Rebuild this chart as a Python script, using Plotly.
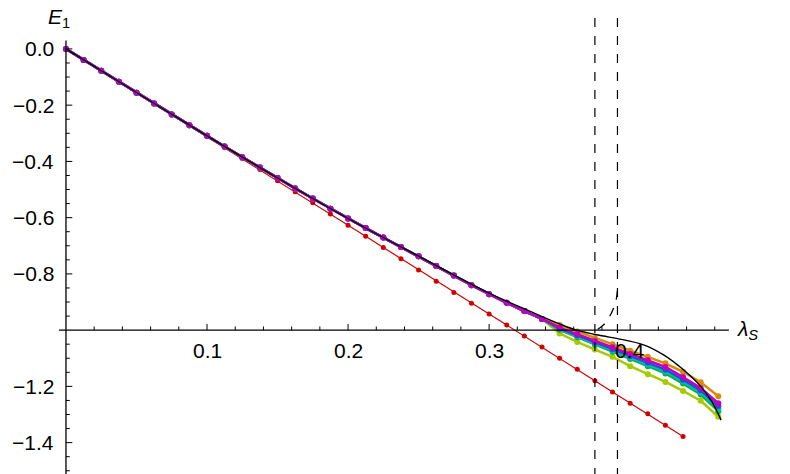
import plotly.graph_objects as go

lam = [i * 0.0125 for i in range(38)]  # 0 .. 0.4625

base = [0, -0.039, -0.078, -0.117, -0.156, -0.194, -0.233, -0.271, -0.309, -0.347,
        -0.385, -0.422, -0.459, -0.496, -0.532, -0.568, -0.603, -0.637, -0.671, -0.704,
        -0.737, -0.772, -0.806, -0.840, -0.872, -0.903, -0.932, -0.960]
# tails from lambda = 0.35 to 0.4625 (10 points)
tail_orange = [-0.982, -1.005, -1.028, -1.050, -1.073, -1.095, -1.118, -1.148, -1.185, -1.235]
tail_magenta = [-0.991, -1.014, -1.039, -1.061, -1.085, -1.107, -1.131, -1.167, -1.206, -1.260]
tail_blue = [-0.994, -1.018, -1.044, -1.067, -1.092, -1.115, -1.140, -1.176, -1.214, -1.270]
tail_cyan = [-0.997, -1.022, -1.048, -1.073, -1.098, -1.122, -1.148, -1.183, -1.222, -1.280]
tail_green = [-0.999, -1.025, -1.052, -1.077, -1.103, -1.128, -1.154, -1.190, -1.229, -1.288]
tail_yellow = [-1.012, -1.042, -1.069, -1.095, -1.128, -1.157, -1.184, -1.216, -1.251, -1.308]

lam_red = [i * 0.0125 for i in range(36)]
red = [0, -0.039, -0.078, -0.117, -0.156, -0.195, -0.234, -0.273, -0.312, -0.351,
       -0.390, -0.429, -0.469, -0.508, -0.547, -0.587, -0.627, -0.666, -0.706, -0.746,
       -0.786, -0.826, -0.866, -0.904, -0.943, -0.982, -1.021, -1.060, -1.100, -1.139,
       -1.180, -1.220, -1.260, -1.297, -1.338, -1.378]

lam_black = [0, 0.05, 0.1, 0.15, 0.2, 0.25, 0.3, 0.33, 0.35, 0.362, 0.38, 0.391, 0.41, 0.424, 0.438, 0.45, 0.458, 0.4645]
black = [0, -0.155, -0.309, -0.459, -0.603, -0.737, -0.868, -0.935, -0.978, -1.0, -1.02, -1.03, -1.053, -1.089, -1.142, -1.20, -1.255, -1.32]

lam_dash = [0.377, 0.381, 0.385, 0.388, 0.390, 0.391]
dash = [-0.997, -0.982, -0.955, -0.925, -0.895, -0.855]

vlines = [0.375, 0.391]
xticks = [0.1, 0.2, 0.3, 0.4]
xtick_labels = ["0.1", "0.2", "0.3", "0.4"]
yticks = [0.0, -0.2, -0.4, -0.6, -0.8, -1.2, -1.4]
ytick_labels = ["0.0", "−0.2", "−0.4", "−0.6", "−0.8", "−1.2", "−1.4"]

fig = go.Figure()
fig.add_trace(go.Scatter(x=lam_red, y=red, mode="lines+markers",
                         line=dict(color="#d00000", width=1.2), marker=dict(color="#d00000", size=5)))
colored = [
    (tail_yellow, "#a8c800"), (tail_orange, "#d98b00"), (tail_green, "#00b030"),
    (tail_cyan, "#00b8b8"), (tail_blue, "#2050d0"), (tail_magenta, "#c000c0"),
]
for tail, col in colored:
    fig.add_trace(go.Scatter(x=lam, y=base + tail, mode="lines+markers",
                             line=dict(color=col, width=2.5), marker=dict(color=col, size=6)))
fig.add_trace(go.Scatter(x=lam_black, y=black, mode="lines", line=dict(color="black", width=1.4, shape="spline")))
fig.add_trace(go.Scatter(x=lam_dash, y=dash, mode="lines", line=dict(color="black", width=1.3, dash="dash", shape="spline")))

shapes = []
ax = dict(color="black", width=1.3)
shapes.append(dict(type="line", x0=-0.005, x1=0.47, y0=-1, y1=-1, line=ax))
shapes.append(dict(type="line", x0=0, x1=0, y0=0.03, y1=-1.56, line=ax))
for v in vlines:
    shapes.append(dict(type="line", x0=v, x1=v, y0=0.11, y1=-1.56, line=dict(color="black", width=1.2, dash="dash")))
for i in range(1, 24):
    xv = i * 0.02
    major = abs(xv * 10 - round(xv * 10)) < 1e-6
    shapes.append(dict(type="line", x0=xv, x1=xv, y0=-1, y1=-1 + (0.022 if major else 0.013), line=dict(color="black", width=1)))
for i in range(0, 31):
    yv = -i * 0.05
    if abs(yv + 1) < 1e-6:
        continue
    major = i % 4 == 0
    shapes.append(dict(type="line", x0=0, x1=(0.0045 if major else 0.0027), y0=yv, y1=yv, line=dict(color="black", width=1)))

ann = []
f = dict(family="Liberation Sans, Arial", size=21, color="black")
for xv, t in zip(xticks, xtick_labels):
    ann.append(dict(x=xv, y=-1.025, text=t, showarrow=False, xanchor="center", yanchor="top", font=f))
for yv, t in zip(yticks, ytick_labels):
    ann.append(dict(x=-0.007, y=yv, text=t, showarrow=False, xanchor="right", yanchor="middle", font=f))
ann.append(dict(x=-0.014, y=0.055, text="<i>E</i><sub>1</sub>", showarrow=False, xanchor="left", yanchor="bottom", font=f))
ann.append(dict(x=0.474, y=-1.0, text="<i>λ</i><sub><i>S</i></sub>", showarrow=False, xanchor="left", yanchor="middle", font=f))

fig.update_layout(
    width=790, height=474, margin=dict(l=0, r=0, t=0, b=0),
    plot_bgcolor="white", paper_bgcolor="white", showlegend=False,
    xaxis=dict(range=[-0.0411, 0.519], visible=False),
    yaxis=dict(range=[-1.540, 0.1455], visible=False),
    shapes=shapes, annotations=ann,
)
fig.write_html("out.html")
